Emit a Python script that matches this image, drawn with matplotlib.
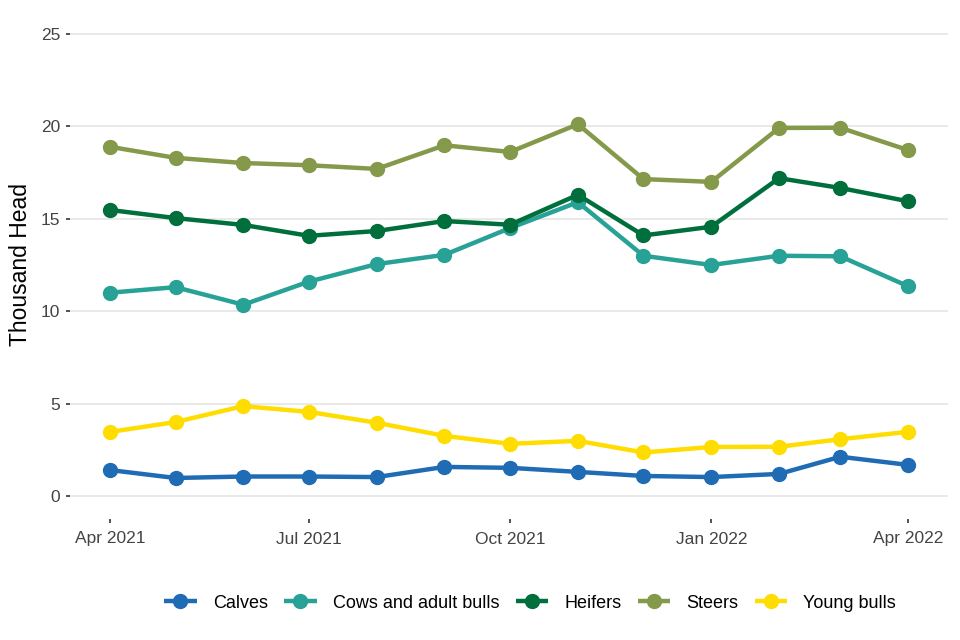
import numpy as np
import pandas as pd
import matplotlib
matplotlib.use("Agg")
import matplotlib.pyplot as plt
import matplotlib.dates as mdates

plt.rcParams['font.family'] = ['Liberation Sans', 'DejaVu Sans']

months = pd.date_range("2021-04-01", "2022-04-01", freq="MS")

calves = [1.4, 0.97, 1.05, 1.05, 1.02, 1.57, 1.52, 1.3, 1.08, 1.02, 1.19, 2.12, 1.68]
cows = [11.0, 11.3, 10.35, 11.6, 12.55, 13.05, 14.5, 15.9, 13.0, 12.5, 13.0, 12.97, 11.35]
heifers = [15.48, 15.04, 14.67, 14.08, 14.34, 14.88, 14.68, 16.3, 14.1, 14.57, 17.2, 16.67, 15.95]
steers = [18.9, 18.3, 18.02, 17.9, 17.7, 18.98, 18.62, 20.12, 17.15, 17.0, 19.92, 19.93, 18.72]
young_bulls = [3.46, 4.0, 4.86, 4.55, 3.96, 3.25, 2.82, 2.98, 2.35, 2.65, 2.66, 3.07, 3.47]

series = [
    ("Calves", calves, "#1f6cb5"),
    ("Cows and adult bulls", cows, "#28a197"),
    ("Heifers", heifers, "#006f3c"),
    ("Steers", steers, "#85994b"),
    ("Young bulls", young_bulls, "#ffdd00"),
]

fig = plt.figure(figsize=(9.6, 6.4), dpi=100)
ax = fig.add_axes([70 / 960, 1 - 519 / 640, 878 / 960, 508 / 640])

for name, vals, col in series:
    ax.plot(months, vals, color=col, lw=3.2, marker="o", ms=10, label=name,
            solid_capstyle="butt")

pad = pd.Timedelta(days=18.25)
ax.set_xlim(months[0] - pad, months[-1] + pad)
ax.set_ylim(-1.25, 26.25)
ax.set_yticks([0, 5, 10, 15, 20, 25])
ticks = pd.to_datetime(["2021-04-01", "2021-07-01", "2021-10-01", "2022-01-01", "2022-04-01"])
ax.set_xticks(ticks)
ax.xaxis.set_major_formatter(mdates.DateFormatter("%b %Y"))

ax.grid(axis="y", color="#e5e5e5", lw=1.2)
ax.set_axisbelow(True)
for s in ax.spines.values():
    s.set_visible(False)
ax.tick_params(axis="both", length=3, width=1.2, color="#333333", labelsize=12.5,
               labelcolor="#444444", pad=4)
ax.tick_params(axis="x", pad=6)
ax.set_ylabel("Thousand Head", fontsize=16.5, color="black", labelpad=6)

ax.legend(loc="upper center", bbox_to_anchor=(0.524, -0.117), ncol=5, frameon=False,
          fontsize=13, handlelength=1.8, columnspacing=0.9, handletextpad=0.9)

fig.savefig("out.png", dpi=100)
